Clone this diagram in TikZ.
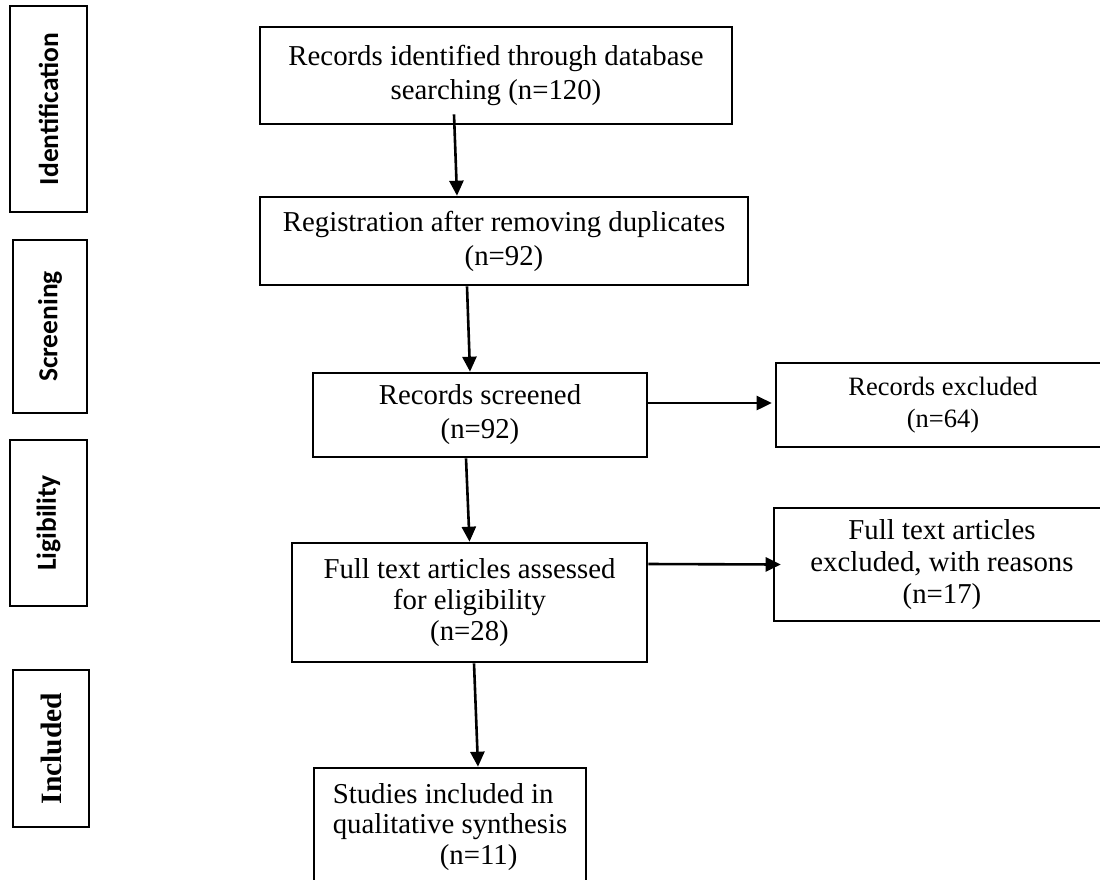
\documentclass[tikz,border=0pt]{standalone}
\usepackage{fontspec}
\setmainfont{Liberation Serif}
\newfontfamily\carlito{Carlito}
\usetikzlibrary{arrows.meta,calc}
\begin{document}
\begin{tikzpicture}[x=1pt,y=-1pt,
  box/.style={draw, line width=2.6pt, align=center, inner sep=0pt, font=\fontsize{28.8}{34}\selectfont},
  rbox/.style={draw, line width=2.6pt, align=center, inner sep=0pt, font=\fontsize{26.5}{31.5}\selectfont},
  side/.style={draw, line width=2.6pt, inner sep=0pt, rotate=90, font=\carlito\bfseries\fontsize{27.5}{30}\selectfont},
  arr/.style={line width=2.6pt, -{Triangle[length=15pt,width=14pt]}}]
\clip (0,0) rectangle (1100,879);
\fill[white] (0,0) rectangle (1100,879);
% phase labels
\node[side, minimum width=206, minimum height=77] (L1) at (48.5,109) {Identification};
\node[side, minimum width=173, minimum height=74] (L2) at (50,326.5) {Screening};
\node[side, minimum width=166, minimum height=77] (L3) at (48.5,523) {Ligibility};
\node[side, minimum width=157, minimum height=76, font=\bfseries\fontsize{29.5}{32}\selectfont] (L4) at (51,748.5) {Included};
% main flow
\node[box, minimum width=472, minimum height=97] (b1) at (496,75.5) {Records identified through database\\searching (n=120)};
\node[box, minimum width=488, minimum height=88] (b2) at (504,241) {Registration after removing duplicates\\(n=92)};
\node[box, minimum width=334, minimum height=84] (b3) at (480,415) {Records screened\\(n=92)};
\node[box, minimum width=355, minimum height=119, font=\fontsize{28.8}{31}\selectfont] (b4) at (469.5,602.5) {Full text articles assessed\\for eligibility\\(n=28)};
\node[box, minimum width=272, minimum height=118, align=left, font=\fontsize{28.8}{30.5}\selectfont] (b5) at (450,827) {Studies included in\\qualitative synthesis\\\hspace*{107pt}(n=11)};
% exclusions
\node[rbox, minimum width=334, minimum height=84] (r1) at (943,405) {Records excluded\\(n=64)};
\node[box, minimum width=336, minimum height=113, font=\fontsize{28.8}{32}\selectfont] (r2) at (942,564.5) {Full text articles\\excluded, with reasons\\(n=17)};
% connectors
\draw[arr] ($(b1.south)+(-42,-11)$) -- ($(b2.north)+(-47,0)$);
\draw[arr] ($(b2.south)+(-37,0)$) -- ($(b3.north)+(-10,0)$);
\draw[arr] ($(b3.south)+(-14,0)$) -- ($(b4.north)+(0,0)$);
\draw[arr] ($(b4.south)+(4.5,0)$) -- ($(b5.north)+(28,0)$);
\draw[arr] ($(b3.east)+(0,-12)$) -- ($(r1.west)+(-3,-2)$);
\draw[arr] ($(b4.east)+(0,-38.5)$) -- ($(r2.west)+(8,0)$);
\end{tikzpicture}
\end{document}
